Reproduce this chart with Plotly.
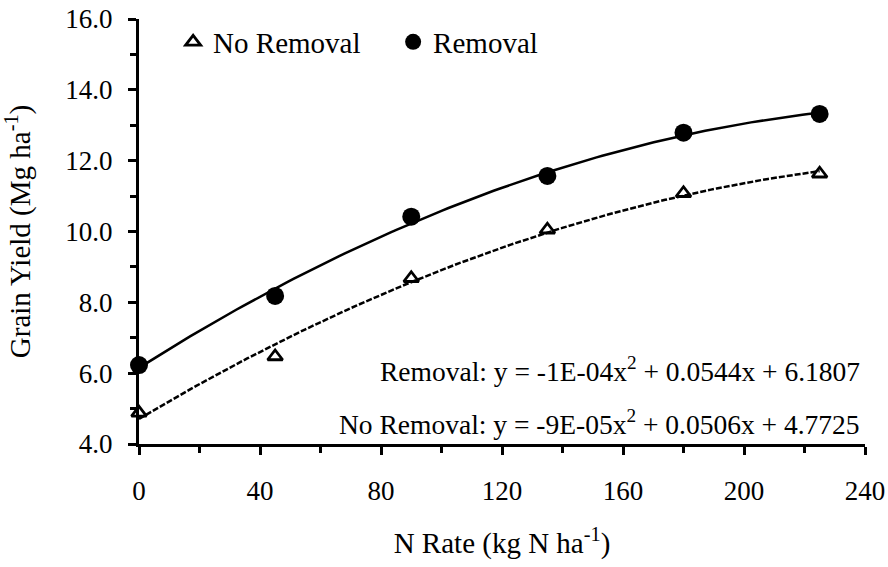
import numpy as np
import plotly.graph_objects as go

n_rate = [0, 45, 90, 135, 180, 225]
no_removal = [4.88, 6.47, 8.68, 10.05, 11.08, 11.63]
removal = [6.23, 8.18, 10.42, 11.57, 12.79, 13.32]
eq_removal = "Removal: y = -1E-04x<sup>2</sup> + 0.0544x + 6.1807"
eq_no_removal = "No Removal: y = -9E-05x<sup>2</sup> + 0.0506x + 4.7725"

FONT = "Liberation Serif, Times New Roman, serif"

xfit = np.linspace(0, 225, 120)
c_nr = np.polyfit(n_rate, no_removal, 2)
c_r = np.polyfit(n_rate, removal, 2)

fig = go.Figure()
fig.add_trace(go.Scatter(x=xfit, y=np.polyval(c_r, xfit), mode="lines",
                         line=dict(color="black", width=2.5), showlegend=False, hoverinfo="skip"))
fig.add_trace(go.Scatter(x=xfit, y=np.polyval(c_nr, xfit), mode="lines",
                         line=dict(color="black", width=2.5, dash="6px,2px"), showlegend=False, hoverinfo="skip"))
fig.add_trace(go.Scatter(x=n_rate, y=no_removal, mode="markers", name="No Removal",
                         marker=dict(symbol="triangle-up-open", size=13, color="black",
                                     line=dict(width=2.8, color="black")), cliponaxis=False))
fig.add_trace(go.Scatter(x=n_rate, y=removal, mode="markers", name="Removal",
                         marker=dict(symbol="circle", size=18, color="black"), cliponaxis=False))

fig.add_annotation(x=239, y=6.1, xref="x", yref="y", text=eq_removal, showarrow=False,
                   xanchor="right", yanchor="middle", font=dict(family=FONT, size=27.5, color="black"))
fig.add_annotation(x=239, y=4.6, xref="x", yref="y", text=eq_no_removal, showarrow=False,
                   xanchor="right", yanchor="middle", font=dict(family=FONT, size=27.5, color="black"))

fig.update_layout(
    width=888, height=567,
    margin=dict(l=139, r=23, t=19, b=123, autoexpand=False),
    paper_bgcolor="white", plot_bgcolor="white",
    font=dict(family=FONT, size=27, color="black"),
    showlegend=True,
    legend=dict(orientation="h", x=0.047, y=0.946, xanchor="left", yanchor="middle",
                font=dict(family=FONT, size=29, color="black"), bgcolor="rgba(0,0,0,0)",
                itemwidth=30, tracegroupgap=0, entrywidth=175),
)
fig.update_xaxes(range=[0, 240], tickvals=[0, 40, 80, 120, 160, 200, 240],
                 showgrid=False, zeroline=False, showline=True, linecolor="black", linewidth=3,
                 ticks="outside", ticklen=8, tickwidth=3, tickcolor="black",
                 minor=dict(tickvals=[20, 60, 100, 140, 180, 220], ticks="outside", ticklen=6, tickwidth=3, tickcolor="black"),
                 tickfont=dict(family=FONT, size=27), ticklabelstandoff=13, automargin=False,
                 ticklabeloverflow="allow",
                 title=dict(text="N Rate (kg N ha<sup>-1</sup>)", font=dict(family=FONT, size=29), standoff=28))
fig.update_yaxes(range=[4, 16], tickvals=[4, 6, 8, 10, 12, 14, 16], tickformat=".1f",
                 showgrid=False, zeroline=False, showline=True, linecolor="black", linewidth=3,
                 ticks="outside", ticklen=8, tickwidth=3, tickcolor="black",
                 minor=dict(tickvals=[5, 7, 9, 11, 13, 15], ticks="outside", ticklen=6, tickwidth=3, tickcolor="black"),
                 tickfont=dict(family=FONT, size=27), ticklabelstandoff=10, automargin=False,
                 ticklabeloverflow="allow",
                 title=dict(text="Grain Yield (Mg ha<sup>-1</sup>)", font=dict(family=FONT, size=29), standoff=28))

fig.write_html("out.html", config={"displayModeBar": False},
               post_script="document.body.style.margin='0';")
